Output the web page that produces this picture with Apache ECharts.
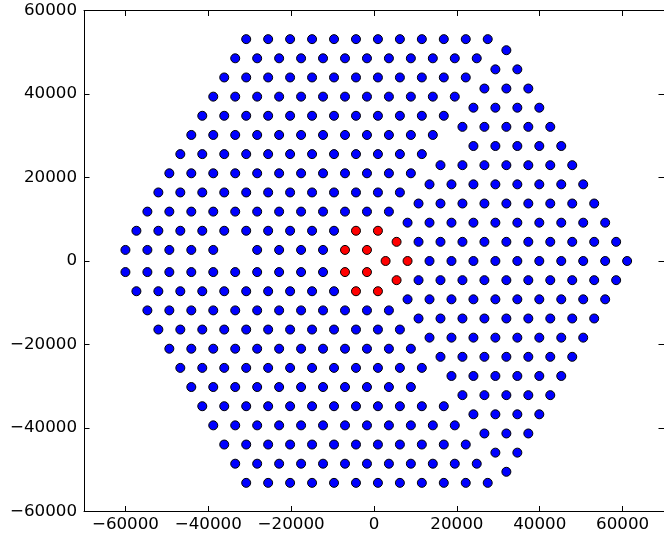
<!DOCTYPE html>
<html>
<head>
<meta charset="utf-8">
<script src="https://cdn.jsdelivr.net/npm/echarts@6/dist/echarts.min.js"></script>
<style>
html,body{margin:0;padding:0;background:#fff;}
#chart{width:664px;height:535px;}
</style>
</head>
<body>
<div id="chart"></div>
<script>
// Tick labels
const xTicks = [-60000, -40000, -20000, 0, 20000, 40000, 60000];
const yTicks = [-60000, -40000, -20000, 0, 20000, 40000, 60000];

// Left cluster (blue), one row per y value
const leftRowY = [53140, 48550, 43960, 39370, 34780, 30190, 25600, 21010, 16420, 11830, 7240, 2650,
                  -2650, -7240, -11830, -16420, -21010, -25600, -30190, -34780, -39370, -43960, -48550, -53140];
const leftRowX = [
  [-30850, -25550, -20250, -14950, -9650, -4350, 950, 6250, 11550, 16850, 22150, 27450],
  [-33500, -28200, -22900, -17600, -12300, -7000, -1700, 3600, 8900, 14200, 19500, 24800],
  [-36150, -30850, -25550, -20250, -14950, -9650, -4350, 950, 6250, 11550, 16850, 22150],
  [-38800, -33500, -28200, -22900, -17600, -12300, -7000, -1700, 3600, 8900, 14200, 19500],
  [-41450, -36150, -30850, -25550, -20250, -14950, -9650, -4350, 950, 6250, 11550, 16850],
  [-44100, -38800, -33500, -28200, -22900, -17600, -12300, -7000, -1700, 3600, 8900, 14200],
  [-46750, -41450, -36150, -30850, -25550, -20250, -14950, -9650, -4350, 950, 6250, 11550],
  [-49400, -44100, -38800, -33500, -28200, -22900, -17600, -12300, -7000, -1700, 3600, 8900],
  [-52050, -46750, -41450, -36150, -30850, -25550, -20250, -14950, -9650, -4350, 950, 6250],
  [-54700, -49400, -44100, -38800, -33500, -28200, -22900, -17600, -12300, -7000, -1700, 3600],
  [-57350, -52050, -46750, -41450, -36150, -30850, -25550, -20250, -14950, -9650],
  [-60000, -54700, -49400, -44100, -38800, -28200, -22900, -17600, -12300],
  [-60000, -54700, -49400, -44100, -38800, -33500, -28200, -22900, -17600, -12300],
  [-57350, -52050, -46750, -41450, -36150, -30850, -25550, -20250, -14950, -9650],
  [-54700, -49400, -44100, -38800, -33500, -28200, -22900, -17600, -12300, -7000, -1700, 3600],
  [-52050, -46750, -41450, -36150, -30850, -25550, -20250, -14950, -9650, -4350, 950, 6250],
  [-49400, -44100, -38800, -33500, -28200, -22900, -17600, -12300, -7000, -1700, 3600, 8900],
  [-46750, -41450, -36150, -30850, -25550, -20250, -14950, -9650, -4350, 950, 6250, 11550],
  [-44100, -38800, -33500, -28200, -22900, -17600, -12300, -7000, -1700, 3600, 8900],
  [-41450, -36150, -30850, -25550, -20250, -14950, -9650, -4350, 950, 6250, 11550, 16850],
  [-38800, -33500, -28200, -22900, -17600, -12300, -7000, -1700, 3600, 8900, 14200, 19500],
  [-36150, -30850, -25550, -20250, -14950, -9650, -4350, 950, 6250, 11550, 16850, 22150],
  [-33500, -28200, -22900, -17600, -12300, -7000, -1700, 3600, 8900, 14200, 19500, 24800],
  [-30850, -25550, -20250, -14950, -9650, -4350, 950, 6250, 11550, 16850, 22150, 27450]
];

// Right cluster (blue), one row per y value
const rightRowY = [50490, 45900, 41310, 36720, 32130, 27540, 22950, 18360, 13770, 9180, 4590, 0,
                   -4590, -9180, -13770, -18360, -22950, -27540, -32130, -36720, -41310, -45900, -50490];
const rightRowX = [
  [31950],
  [29300, 34600],
  [26650, 31950, 37250],
  [24000, 29300, 34600, 39900],
  [21350, 26650, 31950, 37250, 42550],
  [24000, 29300, 34600, 39900, 45200],
  [16050, 21350, 26650, 31950, 37250, 42550, 47850],
  [13400, 18700, 24000, 29300, 34600, 39900, 45200, 50500],
  [10750, 16050, 21350, 26650, 31950, 37250, 42550, 47850, 53150],
  [8100, 13400, 18700, 24000, 29300, 34600, 39900, 45200, 50500, 55800],
  [10750, 16050, 21350, 26650, 31950, 37250, 42550, 47850, 53150, 58450],
  [13400, 18700, 24000, 29300, 34600, 39900, 45200, 50500, 55800, 61100],
  [10750, 16050, 21350, 26650, 31950, 37250, 42550, 47850, 53150, 58450],
  [8100, 13400, 18700, 24000, 29300, 34600, 39900, 45200, 50500, 55800],
  [10750, 16050, 21350, 26650, 31950, 37250, 42550, 47850, 53150],
  [13400, 18700, 24000, 29300, 34600, 39900, 45200, 50500],
  [16050, 21350, 26650, 31950, 37250, 42550, 47850],
  [18700, 24000, 29300, 34600, 39900, 45200],
  [21350, 26650, 31950, 37250, 42550],
  [24000, 29300, 34600, 39900],
  [26650, 31950, 37250],
  [29300, 34600],
  [31950]
];

// Red points in the centre
const redX = [-7000, -1700, -4350, 950, 5450, 2800, 8100, 5450, -4350, 950, -7000, -1700];
const redY = [2650, 2650, 7240, 7240, 4590, 0, 0, -4590, -7240, -7240, -2650, -2650];

function rowsToPoints(ys, xs) {
  const out = [];
  ys.forEach((y, i) => xs[i].forEach(x => out.push([x, y])));
  return out;
}
const blueData = rowsToPoints(leftRowY, leftRowX).concat(rowsToPoints(rightRowY, rightRowX));
const redData = redX.map((x, i) => [x, redY[i]]);

const fmt = v => (v < 0 ? '\u2212' + Math.abs(v) : String(v));
const font = { color: '#000', fontSize: 16.7, fontFamily: 'DejaVu Sans' };
const lineBlack = { color: '#000', width: 1 };

const chart = echarts.init(document.getElementById('chart'), null, { renderer: 'canvas' });
chart.setOption({
  animation: false,
  backgroundColor: '#fff',
  grid: { left: 84, top: 10.5, width: 584, height: 501 },
  xAxis: [
    {
      type: 'value', position: 'bottom', min: -70000, max: 70000,
      axisLine: { show: true, onZero: false, lineStyle: lineBlack },
      axisTick: { show: true, inside: true, length: 5.5, customValues: xTicks, lineStyle: lineBlack },
      axisLabel: Object.assign({ show: true, margin: 5, customValues: xTicks, formatter: fmt }, font),
      splitLine: { show: false }
    },
    {
      type: 'value', position: 'top', min: -70000, max: 70000,
      axisLine: { show: true, onZero: false, lineStyle: lineBlack },
      axisTick: { show: true, inside: true, length: 5.5, customValues: xTicks, lineStyle: lineBlack },
      axisLabel: { show: false },
      splitLine: { show: false }
    }
  ],
  yAxis: [
    {
      type: 'value', position: 'left', min: -60000, max: 60000, interval: 20000,
      axisLine: { show: true, onZero: false, lineStyle: lineBlack },
      axisTick: { show: true, inside: true, length: 5.5, lineStyle: lineBlack },
      axisLabel: Object.assign({ show: true, margin: 7, formatter: fmt }, font),
      splitLine: { show: false }
    },
    {
      type: 'value', position: 'right', min: -60000, max: 60000, interval: 20000,
      axisLine: { show: true, onZero: false, lineStyle: lineBlack },
      axisTick: { show: true, inside: true, length: 5.5, lineStyle: lineBlack },
      axisLabel: { show: false },
      splitLine: { show: false }
    }
  ],
  series: [
    {
      type: 'scatter', xAxisIndex: 0, yAxisIndex: 0,
      data: blueData, symbol: 'circle', symbolSize: 9,
      itemStyle: { color: '#0000ff', borderColor: '#000', borderWidth: 1, opacity: 1 },
      emphasis: { disabled: true }
    },
    {
      type: 'scatter', xAxisIndex: 0, yAxisIndex: 0,
      data: redData, symbol: 'circle', symbolSize: 9,
      itemStyle: { color: '#ff0000', borderColor: '#000', borderWidth: 1, opacity: 1 },
      emphasis: { disabled: true }
    }
  ]
});
</script>
</body>
</html>
